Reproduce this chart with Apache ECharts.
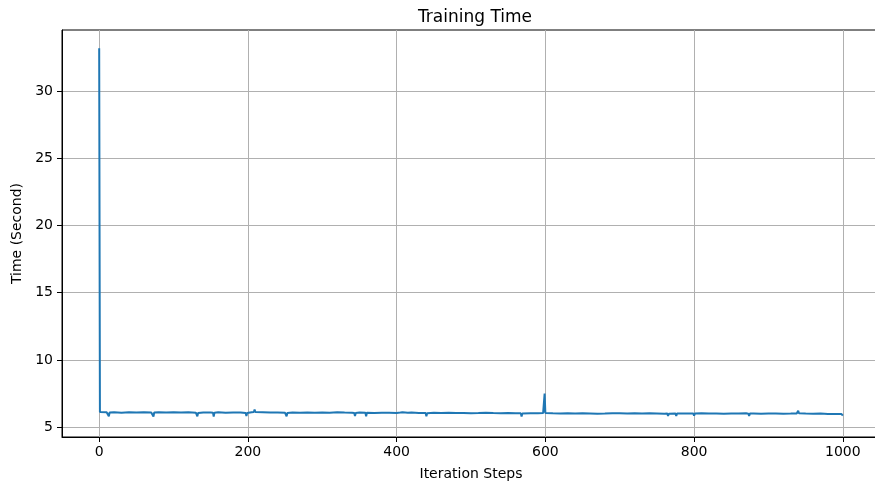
<!DOCTYPE html>
<html>
<head>
<meta charset="utf-8">
<script src="https://cdn.jsdelivr.net/npm/echarts@6/dist/echarts.min.js"></script>
<style>
  html, body { margin: 0; padding: 0; background: #fff; overflow: hidden; }
  #chart { width: 881px; height: 488px; }
</style>
</head>
<body>
<div id="chart"></div>
<script>
// Iteration steps and the measured time per step (seconds)
const steps = [
  0, 1, 10, 12, 13, 14, 20, 30, 40, 50, 60, 70, 72, 73, 74, 80, 90, 100, 110, 120,
  130, 131, 132, 133, 140, 150, 153, 154, 155, 160, 170, 180, 190, 197, 198, 199, 205, 208, 209, 210,
  220, 230, 240, 250, 251, 252, 253, 260, 270, 280, 290, 300, 310, 320, 330, 340, 343, 344, 345, 350,
  358, 359, 360, 370, 380, 390, 400, 405, 407, 408, 415, 420, 430, 439, 440, 441, 450, 460, 470, 480,
  490, 500, 510, 520, 521, 522, 530, 540, 550, 560, 567, 568, 569, 580, 590, 597, 598, 599, 600, 601,
  610, 620, 630, 640, 650, 660, 670, 680, 690, 700, 710, 720, 730, 740, 750, 760, 764, 765, 766, 775,
  776, 777, 790, 799, 800, 801, 810, 820, 830, 840, 850, 860, 870, 873, 874, 875, 880, 890, 900, 910,
  920, 930, 938, 940, 941, 950, 960, 970, 980, 990, 998, 999, 1000
];
const times = [
  33.2, 6.12, 6.10, 6.09, 5.80, 6.08, 6.10, 6.07, 6.11, 6.08, 6.10, 6.08, 6.07, 5.78, 6.08, 6.10, 6.09, 6.11, 6.08, 6.10,
  6.07, 6.06, 5.80, 6.05, 6.09, 6.08, 6.07, 5.79, 6.07, 6.10, 6.06, 6.09, 6.08, 6.04, 5.82, 6.05, 6.10, 6.12, 6.30, 6.12,
  6.10, 6.08, 6.09, 6.06, 6.05, 5.80, 6.05, 6.08, 6.07, 6.09, 6.06, 6.08, 6.07, 6.10, 6.08, 6.07, 6.05, 5.82, 6.05, 6.08,
  6.06, 5.80, 6.06, 6.05, 6.07, 6.06, 6.05, 6.08, 6.18, 6.10, 6.07, 6.08, 6.05, 6.04, 5.80, 6.03, 6.06, 6.05, 6.06, 6.04,
  6.05, 6.03, 6.04, 6.07, 6.12, 6.06, 6.04, 6.03, 6.04, 6.02, 6.02, 5.78, 6.01, 6.03, 6.02, 6.04, 6.03, 7.50, 6.05, 6.04,
  6.02, 6.01, 6.03, 6.00, 6.02, 6.01, 5.99, 6.00, 6.02, 6.03, 6.01, 6.02, 6.00, 6.02, 6.01, 5.99, 6.00, 5.82, 5.99, 6.00,
  5.82, 6.00, 6.01, 6.00, 5.84, 6.00, 6.02, 6.00, 6.01, 5.99, 6.01, 6.00, 6.02, 6.00, 5.82, 6.00, 6.01, 5.99, 6.00, 6.01,
  5.99, 6.00, 6.01, 6.22, 6.02, 6.00, 5.99, 6.00, 5.98, 5.97, 5.98, 5.97, 5.85
];
const xTicks = [0, 200, 400, 600, 800, 1000];
const yTicks = [5, 10, 15, 20, 25, 30];

const FONT = 'DejaVu Sans';
const seriesData = steps.map((s, i) => [s, times[i]]);
const plain = v => String(v);

const chart = echarts.init(document.getElementById('chart'), null, { renderer: 'canvas' });
chart.setOption({
  animation: false,
  backgroundColor: '#ffffff',
  title: {
    text: 'Training Time',
    left: 470,
    top: 4,
    textAlign: 'center',
    textStyle: { fontFamily: FONT, fontSize: 17, fontWeight: 'normal', color: '#000' }
  },
  grid: {
    left: 62, right: 1, top: 30, bottom: 51,
    show: true, borderColor: '#000', borderWidth: 1, backgroundColor: 'transparent'
  },
  xAxis: {
    type: 'value',
    min: -50, max: 1050,
    name: 'Iteration Steps',
    nameLocation: 'middle',
    nameGap: 30,
    nameTextStyle: { fontFamily: FONT, fontSize: 14, color: '#000' },
    axisLine: { onZero: false, lineStyle: { color: '#000', width: 1 } },
    axisTick: { show: true, customValues: xTicks, length: 5, inside: false, lineStyle: { color: '#000' } },
    axisLabel: { customValues: xTicks, formatter: plain, margin: 8, fontFamily: FONT, fontSize: 14, color: '#000' },
    splitLine: { show: true, lineStyle: { color: '#b0b0b0', width: 1 } }
  },
  yAxis: {
    type: 'value',
    min: 4.26, max: 34.55,
    name: 'Time (Second)',
    nameLocation: 'middle',
    nameRotate: 90,
    nameGap: 36,
    nameTextStyle: { fontFamily: FONT, fontSize: 14, color: '#000' },
    axisLine: { show: true, onZero: false, lineStyle: { color: '#000', width: 1 } },
    axisTick: { show: true, customValues: yTicks, length: 5, inside: false, lineStyle: { color: '#000' } },
    axisLabel: { customValues: yTicks, formatter: plain, margin: 9, fontFamily: FONT, fontSize: 14, color: '#000' },
    splitLine: { show: true, lineStyle: { color: '#b0b0b0', width: 1 } }
  },
  series: [{
    type: 'line',
    data: seriesData,
    showSymbol: false,
    symbol: 'none',
    lineStyle: { color: '#1f77b4', width: 2 },
    clip: true
  }]
});
</script>
</body>
</html>
